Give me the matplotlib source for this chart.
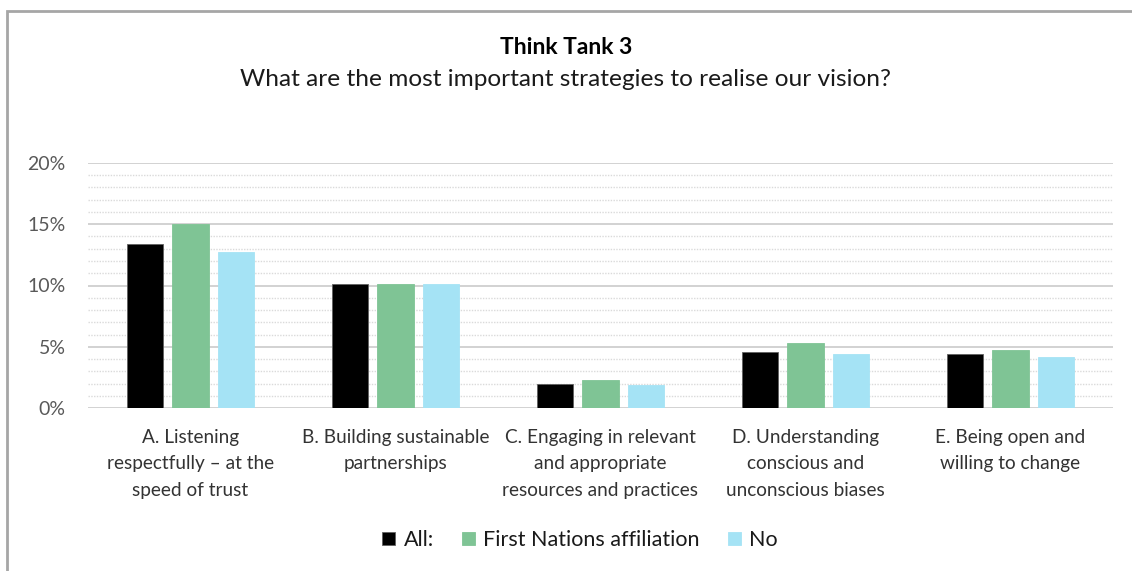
import matplotlib.pyplot as plt
import numpy as np
from matplotlib.patches import Rectangle
from matplotlib.ticker import MultipleLocator, PercentFormatter

plt.rcParams['font.family'] = ['Lato', 'DejaVu Sans']

categories = [
    "A. Listening\nrespectfully \u2013 at the\nspeed of trust",
    "B. Building sustainable\npartnerships",
    "C. Engaging in relevant\nand appropriate\nresources and practices",
    "D. Understanding\nconscious and\nunconscious biases",
    "E. Being open and\nwilling to change",
]
series_names = ["All:", "First Nations affiliation", "No"]
all_vals = [13.4, 10.1, 2.0, 4.6, 4.4]
first_nations = [15.0, 10.1, 2.3, 5.3, 4.7]
no_vals = [12.7, 10.1, 1.9, 4.4, 4.2]
colors = ["#000000", "#7FC495", "#A5E3F5"]

fig = plt.figure(figsize=(11.32, 5.71), dpi=100)
# chart area border, runs off the right and bottom edges
fig.patches.append(Rectangle((7 / 1132, -0.1), 1.2, (1 - 11 / 571) + 0.1,
                             transform=fig.transFigure, fill=False,
                             edgecolor="#A6A6A6", linewidth=2))

ax = fig.add_axes([88 / 1132, 1 - 408 / 571, 1025 / 1132, 245 / 571])
x = np.arange(len(categories))
w = 0.176
step = 0.22
for i, (vals, name, c) in enumerate(zip([all_vals, first_nations, no_vals], series_names, colors)):
    ax.bar(x + (i - 1) * step, vals, width=w, color=c, label=name, zorder=3,
           edgecolor="#606060" if i == 0 else c, linewidth=0.6)

ax.set_xlim(-0.5, len(categories) - 0.5)
ax.set_ylim(0, 20)
ax.yaxis.set_major_locator(MultipleLocator(5))
ax.yaxis.set_minor_locator(MultipleLocator(1))
ax.yaxis.set_major_formatter(PercentFormatter(decimals=0))
ax.grid(axis="y", which="major", color="#CFCFCF", linewidth=1.3, zorder=0)
ax.grid(axis="y", which="minor", color="#DADADA", linewidth=1.0, linestyle=(0, (1, 1)), zorder=0)
for s in ax.spines.values():
    s.set_visible(False)
ax.tick_params(axis="both", which="both", length=0)
ax.tick_params(axis="y", labelsize=14, labelcolor="#595959", pad=16)
ax.set_xticks(x)
ax.set_xticklabels(categories, fontsize=13.7, color="#333333", linespacing=1.68)
ax.tick_params(axis="x", pad=15)

fig.text(0.5, 1 - 48 / 571, "Think Tank 3", ha="center", va="center",
         fontsize=16.5, fontweight="bold", color="#000000")
fig.text(0.5, 1 - 80 / 571, "What are the most important strategies to realise our vision?",
         ha="center", va="center", fontsize=17.6, color="#1A1A1A")

fig.legend(loc="center", bbox_to_anchor=(580 / 1132, 1 - 540 / 571), ncol=3, frameon=False,
           fontsize=15.5, handlelength=0.6, handleheight=0.6, handletextpad=0.4,
           columnspacing=1.3, labelcolor="#1A1A1A")

fig.savefig("out.png", dpi=100, facecolor="white")
